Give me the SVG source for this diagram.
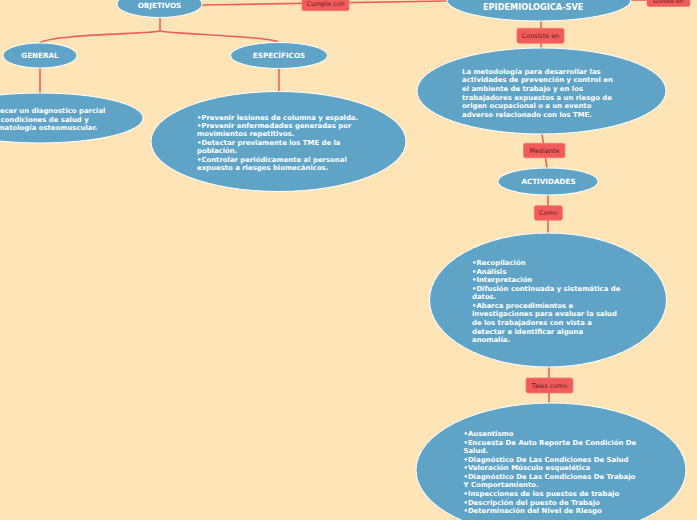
<svg xmlns="http://www.w3.org/2000/svg" width="697" height="520" viewBox="0 0 697 520">
<style>
.node{fill:#5fa4c6;stroke:#ffffff;stroke-width:1}
.t{font-family:"DejaVu Sans",Verdana,sans-serif;font-weight:bold;fill:#ffffff}
.title{font-size:7.2px;text-anchor:middle}
.body{font-size:6.9px}
.lbl rect{fill:#f15b5b;stroke:#f47a7a;stroke-width:0.8}
.lbl text{font-family:"DejaVu Sans",Verdana,sans-serif;font-size:6.4px;fill:#5e1f1f;text-anchor:middle}
.conn path{fill:none;stroke:#ef5f5c;stroke-width:1.6}
</style>
<rect width="697" height="520" fill="#fee4b6"/>
<g id="connectors" class="conn">
<path d="M202,5 L448,1"/>
<path d="M630,0 L648,0"/>
<path d="M541,21 L541,48"/>
<path d="M542,134 L547,168"/>
<path d="M548,195 L548,233"/>
<path d="M549,367 L549,403"/>
<path d="M160,18 L160,31"/>
<path d="M160,31 C150,34 50,34 40,43"/>
<path d="M160,31 C170,34 270,36 278,42"/>
<path d="M40,68 L40,93"/>
<path d="M279,68 L279,92"/>
</g>
<g id="lbl-cumple" class="lbl"><rect x="302" y="-2" width="47" height="12.7" rx="2"/><text x="325.5" y="6.3">Cumple con</text></g>
<g id="lbl-divide" class="lbl"><rect x="647" y="-8" width="43" height="14.5" rx="2"/><text x="668.5" y="3">Divide en</text></g>
<g id="lbl-consiste" class="lbl"><rect x="517" y="28.3" width="47" height="15" rx="2"/><text x="540.5" y="37.8">Consiste en</text></g>
<g id="lbl-mediante" class="lbl"><rect x="523.5" y="143.3" width="41.5" height="14.5" rx="2"/><text x="544.3" y="152.5">Mediante</text></g>
<g id="lbl-como" class="lbl"><rect x="534.3" y="205.7" width="28" height="14.5" rx="2"/><text x="548.3" y="215">Como</text></g>
<g id="lbl-tales" class="lbl"><rect x="526" y="378" width="47" height="15" rx="2"/><text x="549.5" y="387.5">Tales como</text></g>

<g id="objetivos"><ellipse class="node" cx="159.5" cy="4" rx="42.5" ry="13.5"/><text class="t title" x="159.5" y="7.7">OBJETIVOS</text></g>
<g id="epidemiologica"><ellipse class="node" cx="539" cy="0" rx="92" ry="21"/><text class="t" x="483" y="9.5" font-size="8.2">EPIDEMIOLOGICA-SVE</text></g>
<g id="general"><ellipse class="node" cx="40" cy="55.5" rx="37" ry="12.5"/><text class="t title" x="40" y="57.7">GENERAL</text></g>
<g id="especificos"><ellipse class="node" cx="279" cy="55.5" rx="48.5" ry="13"/><text class="t title" x="279" y="57.7">ESPECÍFICOS</text></g>
<g id="general-texto"><ellipse class="node" cx="40" cy="118" rx="103" ry="25"/>
<text class="t body"><tspan x="-24" y="113">Establecer un diagnostico parcial</tspan><tspan x="-25" y="121.5">de las condiciones de salud y</tspan><tspan x="-22" y="130">sintomatología osteomuscular.</tspan></text></g>
<g id="especificos-texto"><ellipse class="node" cx="278.5" cy="141.5" rx="127.5" ry="50"/>
<text class="t body"><tspan x="197" y="119.5">•Prevenir lesiones de columna y espalda.</tspan><tspan x="197" y="127.9">•Prevenir enfermedades generadas por</tspan><tspan x="197" y="136.3">movimientos repetitivos.</tspan><tspan x="197" y="144.7">•Detectar previamente los TME de la</tspan><tspan x="197" y="153.1">población.</tspan><tspan x="197" y="161.5">•Controlar periódicamente al personal</tspan><tspan x="197" y="169.9">expuesto a riesgos biomecánicos.</tspan></text></g>
<g id="metodologia"><ellipse class="node" cx="541.5" cy="91" rx="124.5" ry="43"/>
<text class="t body"><tspan x="462" y="73.5">La metodología para desarrollar las</tspan><tspan x="462" y="82.2">actividades de prevención y control en</tspan><tspan x="462" y="90.9">el ambiente de trabajo y en los</tspan><tspan x="462" y="99.6">trabajadores expuestos a un riesgo de</tspan><tspan x="462" y="108.3">origen ocupacional o a un evento</tspan><tspan x="462" y="117">adverso relacionado con los TME.</tspan></text></g>
<g id="actividades"><ellipse class="node" cx="548" cy="181.5" rx="50" ry="13.5"/><text class="t title" x="548.5" y="184.3">ACTIVIDADES</text></g>
<g id="recopilacion"><ellipse class="node" cx="548" cy="300" rx="118.5" ry="67"/>
<text class="t body"><tspan x="472" y="265">•Recopilación</tspan><tspan x="472" y="273.6">•Análisis</tspan><tspan x="472" y="282.1">•Interpretación</tspan><tspan x="472" y="290.7">•Difusión continuada y sistemática de</tspan><tspan x="472" y="299.2">datos.</tspan><tspan x="472" y="307.8">•Abarca procedimientos e</tspan><tspan x="472" y="316.4">investigaciones para evaluar la salud</tspan><tspan x="472" y="324.9">de los trabajadores con vista a</tspan><tspan x="472" y="333.5">detectar e identificar alguna</tspan><tspan x="472" y="342">anomalía.</tspan></text></g>
<g id="tecnicas"><ellipse class="node" cx="551" cy="470" rx="135" ry="67"/>
<text class="t body"><tspan x="463.5" y="436">•Ausentismo</tspan><tspan x="463.5" y="444.6">•Encuesta De Auto Reporte De Condición De</tspan><tspan x="463.5" y="453.1">Salud.</tspan><tspan x="463.5" y="461.7">•Diagnóstico De Las Condiciones De Salud</tspan><tspan x="463.5" y="470.2">•Valoración Músculo esquelética</tspan><tspan x="463.5" y="478.8">•Diagnóstico De Las Condiciones De Trabajo</tspan><tspan x="463.5" y="487.4">Y Comportamiento.</tspan><tspan x="463.5" y="495.9">•Inspecciones de los puestos de trabajo</tspan><tspan x="463.5" y="504.5">•Descripción del puesto de Trabajo</tspan><tspan x="463.5" y="513">•Determinación del Nivel de Riesgo</tspan></text></g>
</svg>
